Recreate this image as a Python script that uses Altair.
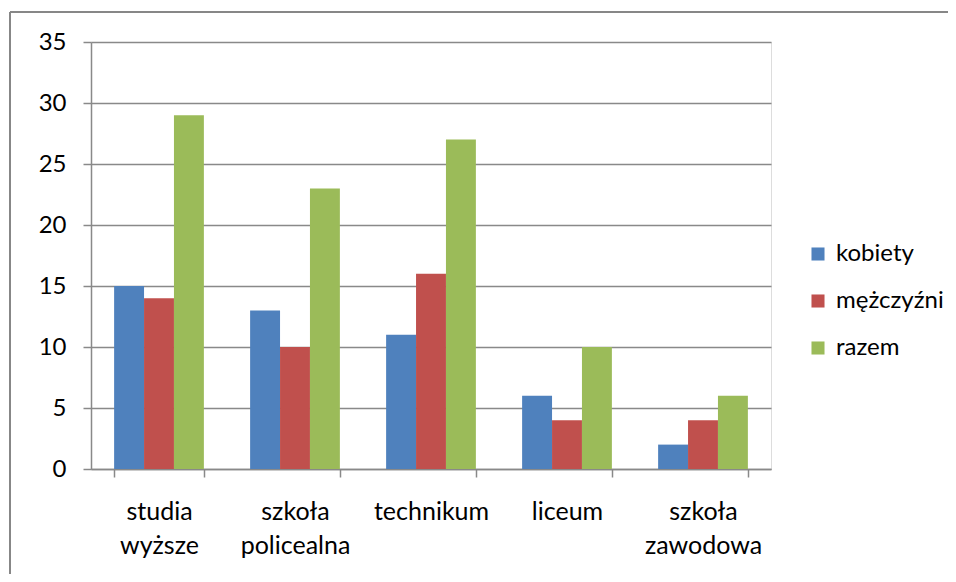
import altair as alt
import pandas as pd

categories = ["studia wyższe", "szkoła policealna", "technikum", "liceum", "szkoła zawodowa"]
series = ["kobiety", "mężczyźni", "razem"]
kobiety = [15, 13, 11, 6, 2]
mezczyzni = [14, 10, 16, 4, 4]
razem = [29, 23, 27, 10, 6]
colors = ["#4F81BD", "#C0504D", "#9BBB59"]
y_ticks = [0, 5, 10, 15, 20, 25, 30, 35]

rows = []
for name, vals in zip(series, [kobiety, mezczyzni, razem]):
    for c, v in zip(categories, vals):
        rows.append({"kategoria": c, "seria": name, "wartosc": v})
df = pd.DataFrame(rows)

W, H = 680, 427
PAD_R, PAD_B = 177, 105
FONT = "Lato"
GRAY = "#898989"

bars = alt.Chart(df).mark_bar().encode(
    x=alt.X(
        "kategoria:N",
        sort=categories,
        scale=alt.Scale(paddingInner=0.34, paddingOuter=0.17),
        axis=alt.Axis(
            title=None,
            labelAngle=0,
            tickBand="extent",
            labelExpr="split(datum.label, ' ')",
            labelFont=FONT,
            labelFontSize=25,
            labelColor="#000000",
            labelLineHeight=34,
            labelBaseline="top",
            labelPadding=22,
            tickSize=8,
            tickColor=GRAY,
            tickWidth=1.5,
            domainColor=GRAY,
            domainWidth=1.5,
            grid=False,
        ),
    ),
    xOffset=alt.XOffset("seria:N", sort=series, scale=alt.Scale(paddingInner=0, paddingOuter=0)),
    y=alt.Y(
        "wartosc:Q",
        scale=alt.Scale(domain=[0, 35], nice=False),
        axis=alt.Axis(
            title=None,
            values=y_ticks,
            labelFont=FONT,
            labelFontSize=24,
            labelColor="#000000",
            labelPadding=17,
            tickSize=8,
            tickColor=GRAY,
            tickWidth=1.5,
            domainColor=GRAY,
            domainWidth=1.5,
            grid=True,
            gridColor=GRAY,
            gridWidth=1.5,
        ),
    ),
    color=alt.Color(
        "seria:N",
        sort=series,
        scale=alt.Scale(domain=series, range=colors),
        legend=alt.Legend(
            title=None,
            orient="none",
            legendX=715,
            legendY=200,
            padding=0,
            symbolType="square",
            symbolSize=170,
            symbolStrokeWidth=0,
            labelFont=FONT,
            labelFontSize=24,
            labelColor="#000000",
            labelOffset=6,
            rowPadding=23,
        ),
    ),
)

one = pd.DataFrame({"b": [0]})
border_top = alt.Chart(one).mark_rule(stroke="#878787", strokeWidth=2).encode(
    x=alt.value(-81), x2=alt.value(W + PAD_R), y=alt.value(-30)
)
border_left = alt.Chart(one).mark_rule(stroke="#878787", strokeWidth=2).encode(
    x=alt.value(-81), y=alt.value(-30), y2=alt.value(H + PAD_B)
)

chart = alt.layer(border_top, border_left, bars).properties(
    width=W,
    height=H,
    autosize=alt.AutoSizeParams(type="none"),
    padding={"left": 83, "top": 34, "right": PAD_R, "bottom": PAD_B},
).configure_view(stroke=None).configure(background="white")

chart.save("out.html", embed_options={"renderer": "svg", "actions": False})
